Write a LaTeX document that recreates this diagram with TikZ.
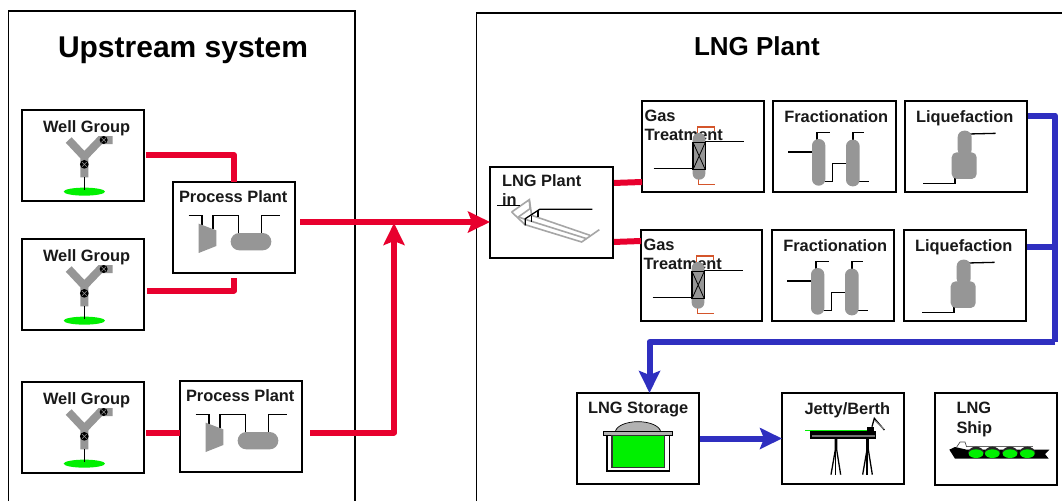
\documentclass[tikz,border=0pt]{standalone}
\usepackage{fontspec}
\setmainfont{Liberation Sans}
\usetikzlibrary{arrows.meta}
\definecolor{redflow}{HTML}{E8002E}
\definecolor{blueflow}{HTML}{2F2FC0}
\definecolor{equipgray}{HTML}{969696}
\definecolor{brk}{HTML}{D4552B}
\definecolor{lnggreen}{HTML}{00F000}
\tikzset{
  unit/.style={draw=black,line width=1.5pt,fill=white,inner sep=0pt,outer sep=0pt,anchor=north west,minimum width=122pt,minimum height=91pt},
  frame/.style={draw=black,line width=1.5pt},
  boxlabel/.style={font=\bfseries\fontsize{16.4}{19.3}\selectfont,inner sep=0pt,outer sep=0pt,anchor=base west,text=black!90},
  wraplabel/.style={font=\bfseries\fontsize{16.4}{19.3}\selectfont,inner sep=0pt,outer sep=0pt,anchor=north west,align=left,text=black!90},
  headline/.style={font=\bfseries,inner sep=0pt,outer sep=0pt,anchor=base west},
  redpipe/.style={draw=redflow,line width=6pt,line join=round},
  bluepipe/.style={draw=blueflow,line width=6pt,line join=round},
  redtip/.style={-{Stealth[length=22pt,width=21pt,inset=4pt]}},
  bluetip/.style={-{Stealth[length=22pt,width=21pt,inset=4pt]}},
  tube/.style={draw=black,line width=1.3pt},
  local/.style={x=.3333pt,y=-.3333pt},
  wellicon/.pic={\begin{scope}[local]
    \draw[equipgray,line width=8pt] (140,90) -- (187,140) -- (187,202);
    \draw[equipgray,line width=8pt] (187,140) -- (235,90) -- (272,90);
    \fill[black] (245,90) circle[radius=12];
    \draw[equipgray,line width=.5pt] (238,83) -- (252,97) (252,83) -- (238,97);
    \fill[black] (187,163) circle[radius=13];
    \draw[equipgray,line width=.5pt] (180,156) -- (194,170) (194,156) -- (180,170);
    \fill[lnggreen] (187,245) ellipse[x radius=62,y radius=12];
    \draw[tube] (187,202) -- (187,240);
  \end{scope}},
  processicon/.pic={\begin{scope}[local]
    \draw[tube] (47,100) -- (87,100) -- (87,130);
    \draw[tube] (120,140) -- (120,100) -- (197,100) -- (197,155);
    \draw[tube] (265,155) -- (265,100) -- (320,100);
    \fill[equipgray] (77,125) -- (130,145) -- (130,192) -- (77,213) -- cycle;
    \fill[equipgray,rounded corners=8.6pt] (173,153) rectangle (295,205);
  \end{scope}},
  coilicon/.pic={\begin{scope}[local]
    \draw[black!35,line width=1.6pt] (65,135) -- (105,173) -- (275,225) -- (328,188);
    \draw[black!35,line width=1.6pt] (65,135) -- (118,98) -- (120,125) -- (85,150);
    \draw[black!35,line width=1.6pt] (118,98) -- (125,145) -- (300,205);
    \draw[black!35,line width=1.6pt] (85,150) -- (115,160) -- (290,215);
    \draw[tube] (21,115) -- (91,115);
    \draw[tube] (106,175) -- (106,155) -- (149,127) -- (307,127);
    \draw[tube] (124,165) -- (124,146);
    \draw[tube] (144,150) -- (144,130);
  \end{scope}},
  treaticon/.pic={\begin{scope}[local]
    \draw[brk,line width=1.1pt] (167,96) -- (167,78) -- (218,78) -- (218,90);
    \draw[brk,line width=1.1pt] (170,231) -- (170,251) -- (218,251);
    \fill[equipgray,rounded corners=6pt] (152,96) rectangle (190,236);
    \draw[black,line width=1.5pt,fill=equipgray] (153,124) rectangle (190,206);
    \draw[black,line width=.8pt] (153,124) -- (190,206) (190,124) -- (153,206);
    \draw[tube] (35,203) -- (155,203);
    \draw[tube] (190,121) -- (305,121);
  \end{scope}},
  fracicon/.pic={\begin{scope}[local]
    \draw[tube] (45,153) -- (118,153);
    \draw[tube] (132,116) -- (132,94) -- (170,94);
    \draw[tube] (150,241) -- (178,241) -- (178,188) -- (220,188);
    \draw[tube] (240,116) -- (240,94) -- (272,94);
    \draw[tube] (258,241) -- (288,241);
    \fill[equipgray,rounded corners=6.5pt] (117,114) rectangle (157,254);
    \fill[equipgray,rounded corners=6.5pt] (219,116) rectangle (260,256);
  \end{scope}},
  liqicon/.pic={\begin{scope}[local]
    \draw[tube] (190,99) -- (272,97);
    \draw[tube] (55,248) -- (150,248) -- (150,228);
    \fill[equipgray,rounded corners=6.5pt] (158,89) rectangle (200,165);
    \fill[equipgray,rounded corners=5pt] (140,154) rectangle (215,234);
  \end{scope}},
  storeicon/.pic={\begin{scope}[local]
    \draw[black,line width=.7pt,fill=black!30] (115,118) arc[start angle=180,end angle=360,x radius=68,y radius=32];
    \draw[black,line width=1.3pt,fill=white] (90,128) rectangle (277,234);
    \draw[black,line width=1.2pt,fill=black!30] (80,116) rectangle (287,128);
    \draw[black!80,line width=1.3pt,fill=lnggreen] (105,128) rectangle (262,224);
  \end{scope}},
  jettyicon/.pic={\begin{scope}[local]
    \foreach \lx in {160,255}{
      \draw[black,line width=1.3pt] (\lx,135) -- (\lx,170) -- (\lx-13,245);
      \draw[black,line width=1.3pt] (\lx,135) -- (\lx,170) -- (\lx,245);
      \draw[black,line width=1.3pt] (\lx+4,135) -- (\lx+4,170) -- (\lx+16,245);
    }
    \draw[lnggreen,line width=1.6pt] (70,113) -- (255,113);
    \fill[black] (83,114) rectangle (283,138);
    \fill[black!55] (90,126) rectangle (280,132);
    \fill[black] (255,101) rectangle (277,116);
    \draw[black,line width=1.3pt] (270,101) -- (277,76) -- (307,111);
    \draw[black!45,line width=1pt] (280,84) -- (305,108);
  \end{scope}},
  shipicon/.pic={\begin{scope}[local]
    \draw[black!70,line width=.7pt] (65,162) -- (75,147) -- (90,147) -- (95,162);
    \draw[black!60,line width=.9pt] (95,160) -- (295,160);
    \fill[black] (43,170) -- (60,162) -- (95,170) -- (343,170) -- (330,183) -- (341,197) -- (60,197) -- cycle;
    \foreach \tx in {123,172,225,277}{
      \fill[black!85] (\tx-24,181) arc[start angle=180,end angle=360,x radius=24,y radius=20] -- cycle;
      \fill[lnggreen] (\tx,182) ellipse[x radius=22,y radius=13];
    }
  \end{scope}},
}
\begin{document}
\begin{tikzpicture}[x=1pt,y=-1pt]
\useasboundingbox (0,0) rectangle (1062,501);
\fill[white] (0,0) rectangle (1062,501);
% system frames
\draw[frame] (8.7,501) -- (8.7,11) -- (355,11) -- (355,501);
\draw[frame] (476.5,501) -- (476.5,13) -- (1062,13);
\node[headline,font=\bfseries\fontsize{30}{36}\selectfont] (upstreamtitle) at (58,57) {Upstream system};
\node[headline,font=\bfseries\fontsize{26}{31}\selectfont] (plantitle) at (694,55) {LNG Plant};
% boxes
\node[unit] (w1) at (22,110) {};
\node[unit] (w2) at (22,239) {};
\node[unit] (w3) at (22,382) {};
\node[unit] (p1) at (173,182) {};
\node[unit] (p2) at (180,381) {};
\node[unit,minimum width=123pt] (lngin) at (490,167) {};
\node[unit] (g1) at (642,101) {};
\node[unit,minimum width=121pt] (g2) at (641,230) {};
\node[unit,minimum width=123pt] (f1) at (773,101) {};
\node[unit] (f2) at (772,230) {};
\node[unit] (l1) at (905,101) {};
\node[unit] (l2) at (904,230) {};
\node[unit] (st) at (577,393) {};
\node[unit] (jt) at (782,393) {};
\node[unit,minimum height=92pt] (sh) at (935,393) {};
% labels
\node[boxlabel] (w1t) at ([shift={(21,22)}]w1.north west) {Well Group};
\node[boxlabel] (w2t) at ([shift={(21,22)}]w2.north west) {Well Group};
\node[boxlabel] (w3t) at ([shift={(21,22)}]w3.north west) {Well Group};
\node[boxlabel] (p1t) at ([shift={(6,20)}]p1.north west) {Process Plant};
\node[boxlabel] (p2t) at ([shift={(6,20)}]p2.north west) {Process Plant};
\node[wraplabel,font=\bfseries\fontsize{16.4}{18.3}\selectfont] (lngint) at ([shift={(12,8)}]lngin.north west) {LNG Plant\\in};
\node[wraplabel] (g1t) at ([shift={(2.5,9)}]g1.north west) {Gas\\Treatment};
\node[wraplabel] (g2t) at ([shift={(2.5,9)}]g2.north west) {Gas\\Treatment};
\node[boxlabel] (f1t) at ([shift={(11.3,21)}]f1.north west) {Fractionation};
\node[boxlabel] (f2t) at ([shift={(11.3,21)}]f2.north west) {Fractionation};
\node[boxlabel] (l1t) at ([shift={(11,21)}]l1.north west) {Liquefaction};
\node[boxlabel] (l2t) at ([shift={(11,21)}]l2.north west) {Liquefaction};
\node[boxlabel] (stt) at ([shift={(11,20.5)}]st.north west) {LNG Storage};
\node[boxlabel] (jtt) at ([shift={(22.5,21)}]jt.north west) {Jetty/Berth};
\node[wraplabel] (sht) at ([shift={(21.5,9.3)}]sh.north west) {LNG\\Ship};
% icons
\pic at (w1.north west) {wellicon};
\pic at (w2.north west) {wellicon};
\pic at (w3.north west) {wellicon};
\pic at (p1.north west) {processicon};
\pic at (p2.north west) {processicon};
\pic at (lngin.north west) {coilicon};
\pic at (g1.north west) {treaticon};
\pic at (g2.north west) {treaticon};
\pic at (f1.north west) {fracicon};
\pic at (f2.north west) {fracicon};
\pic at (l1.north west) {liqicon};
\pic at (l2.north west) {liqicon};
\pic at (st.north west) {storeicon};
\pic at (jt.north west) {jettyicon};
\pic at (sh.north west) {shipicon};
% connectors
\coordinate (upjoin) at (394,223);
\coordinate (bluecorner) at (1055,342);
\coordinate (l2tap) at ([yshift=28.5pt]l2.east);
\draw[redpipe,shorten <=2pt] ([yshift=0.5pt]w1.east) -| (p1.north);
\draw[redpipe,shorten <=3pt,shorten >=4.5pt] ([yshift=-6pt]w2.east) -| (p1.south);
\draw[redpipe,shorten <=2pt] ([yshift=-5pt]w3.east) -- ([yshift=-6pt]p2.west);
\draw[redpipe,redtip,shorten <=5pt] ([yshift=5.5pt]p1.east) -- ([yshift=-9.5pt]lngin.west);
\draw[redpipe,redtip,shorten <=8pt] ([yshift=-6pt]p2.east) -| (upjoin);
\draw[redpipe,shorten <=1pt] ([yshift=29.5pt]lngin.east) -- ([yshift=-35.5pt]g1.west);
\draw[redpipe,shorten <=1pt] ([yshift=-29.5pt]lngin.east) -- ([yshift=34.5pt]g2.west);
\draw[bluepipe,shorten <=1pt] ([yshift=31pt]l1.east) -| (bluecorner);
\draw[bluepipe,shorten <=1pt] (l2tap) -- (l2tap -| bluecorner);
\draw[bluepipe,bluetip] (bluecorner) -| ([xshift=11.5pt]st.north);
\draw[bluepipe,bluetip,shorten <=1pt] (st.east) -- (jt.west);
\end{tikzpicture}
\end{document}
